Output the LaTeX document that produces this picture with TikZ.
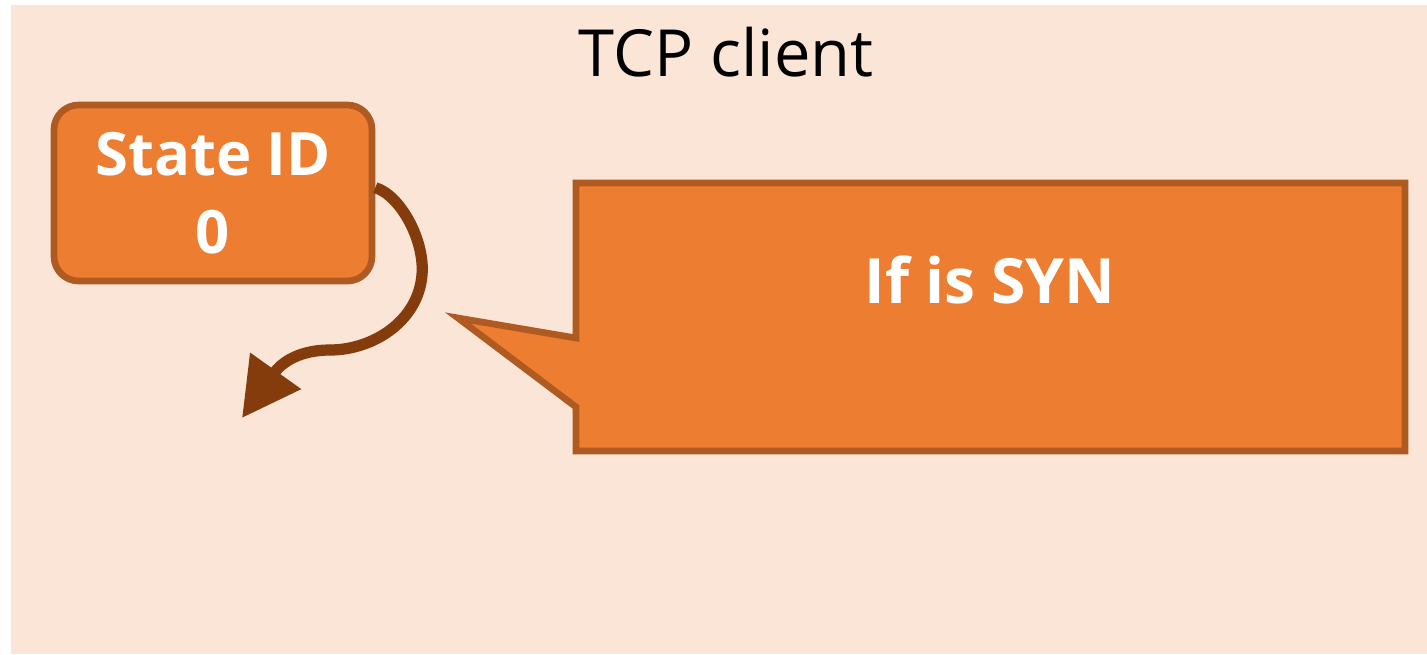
\documentclass[tikz,border=0pt]{standalone}
\usepackage{fontspec}
\setmainfont{Open Sans}
\usetikzlibrary{arrows.meta,positioning}
\definecolor{bgpeach}{HTML}{FBE5D6}
\definecolor{boxorange}{HTML}{ED7D31}
\definecolor{boxedge}{HTML}{AE5A21}
\definecolor{arrowbrown}{HTML}{843C0C}

\begin{document}
\begin{tikzpicture}[x=0.02cm,y=-0.02cm,
    every node/.style={font=\fontsize{34}{42}\selectfont\bfseries,text=white},
    statebox/.style={draw=boxedge,fill=boxorange,line width=3.8pt,rounded corners=14pt,
      minimum width=318*0.02cm,minimum height=176*0.02cm,align=center,inner sep=0pt},
    bubble/.style={draw=boxedge,fill=boxorange,line width=3.8pt,line join=miter}]
  \useasboundingbox (0,0) rectangle (1427,654);
  \fill[bgpeach] (11,5) rectangle (1427,654);

  \node[font=\fontsize{37}{44}\selectfont,text=black] (title) at (726,52) {TCP client};
  \node[statebox] (state) at (213,193) {State ID\\[2pt]0};

  \draw[bubble] (576,183) -- (1405,183) -- (1405,451) -- (576,451) -- (576,407)
    -- (458,318) -- (576,338) -- cycle;
  \node[font=\fontsize{35.5}{42}\selectfont\bfseries] (syn) at (990,280) {If is SYN};

  \coordinate (tip) at (242,418);
  \draw[arrowbrown,line width=6.4pt,-{Triangle[length=33pt,width=34pt]}]
    ([yshift=3pt]state.east) .. controls (400,195) and (425,240) .. (422,275)
    .. controls (418,322) and (372,350) .. (330,350)
    .. controls (300,350) and (282,362) .. (tip);
\end{tikzpicture}
\end{document}
